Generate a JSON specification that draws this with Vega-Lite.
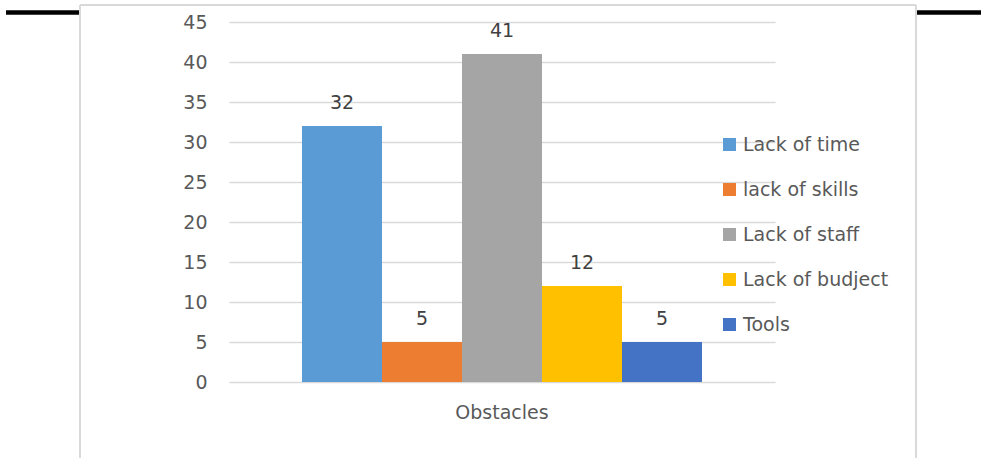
{
  "$schema": "https://vega.github.io/schema/vega-lite/v6.json",
  "width": 981,
  "height": 458,
  "autosize": "none",
  "padding": 0,
  "background": "#ffffff",
  "config": {
    "view": {"stroke": null},
    "font": "DejaVu Sans"
  },
  "layer": [
    {
      "data": {"values": [{}]},
      "mark": {"type": "rule", "color": "#d9d9d9", "strokeWidth": 2},
      "encoding": {
        "x": {"datum": "Obstacles", "type": "nominal", "bandPosition": -0.2729},
        "x2": {"datum": "Obstacles", "bandPosition": 1.2582},
        "y": {"datum": 47.125, "type": "quantitative"}
      }
    },
    {
      "data": {"values": [{}]},
      "mark": {"type": "rule", "color": "#d9d9d9", "strokeWidth": 2},
      "encoding": {
        "x": {"datum": "Obstacles", "type": "nominal", "bandPosition": -0.2729},
        "y": {"datum": 47.125, "type": "quantitative"},
        "y2": {"datum": -12}
      }
    },
    {
      "data": {"values": [{}]},
      "mark": {"type": "rule", "color": "#d9d9d9", "strokeWidth": 2},
      "encoding": {
        "x": {"datum": "Obstacles", "type": "nominal", "bandPosition": 1.2582},
        "y": {"datum": 47.125, "type": "quantitative"},
        "y2": {"datum": -12}
      }
    },
    {
      "data": {"values": [{}]},
      "mark": {"type": "rule", "color": "#000000", "strokeWidth": 4.5},
      "encoding": {
        "x": {"datum": "Obstacles", "type": "nominal", "bandPosition": -0.4084},
        "x2": {"datum": "Obstacles", "bandPosition": -0.2747},
        "y": {"datum": 46.2, "type": "quantitative"}
      }
    },
    {
      "data": {"values": [{}]},
      "mark": {"type": "rule", "color": "#000000", "strokeWidth": 4.5},
      "encoding": {
        "x": {"datum": "Obstacles", "type": "nominal", "bandPosition": 1.2601},
        "x2": {"datum": "Obstacles", "bandPosition": 1.39},
        "y": {"datum": 46.2, "type": "quantitative"}
      }
    },
    {
      "data": {
        "values": [
          {"group": "Obstacles", "series": "Lack of time", "count": 32},
          {"group": "Obstacles", "series": "lack of skills", "count": 5},
          {"group": "Obstacles", "series": "Lack of staff", "count": 41},
          {"group": "Obstacles", "series": "Lack of budject", "count": 12},
          {"group": "Obstacles", "series": "Tools", "count": 5}
        ]
      },
      "encoding": {
        "x": {
          "field": "group",
          "type": "nominal",
          "scale": {"range": [229, 775], "paddingInner": 0, "paddingOuter": 0},
          "axis": {
            "orient": "bottom",
            "offset": -76,
            "title": null,
            "domain": false,
            "ticks": false,
            "labelAngle": 0,
            "labelAlign": "center",
            "labelFlush": false,
            "labelFontSize": 19,
            "labelColor": "#595959",
            "labelPadding": 30,
            "grid": false
          }
        },
        "xOffset": {
          "field": "series",
          "type": "nominal",
          "sort": ["Lack of time", "lack of skills", "Lack of staff", "Lack of budject", "Tools"],
          "scale": {"paddingInner": 0, "paddingOuter": 0.9125}
        },
        "y": {
          "field": "count",
          "type": "quantitative",
          "scale": {"domain": [0, 45], "range": [382, 22], "nice": false},
          "axis": {
            "orient": "left",
            "offset": -229,
            "title": null,
            "values": [0, 5, 10, 15, 20, 25, 30, 35, 40, 45],
            "domain": false,
            "ticks": false,
            "labelFontSize": 19,
            "labelColor": "#595959",
            "labelPadding": 22,
            "grid": true,
            "gridColor": "#d9d9d9",
            "gridWidth": 1.5
          }
        }
      },
      "layer": [
        {
          "mark": {"type": "bar"},
          "encoding": {
            "color": {
              "field": "series",
              "type": "nominal",
              "scale": {
                "domain": ["Lack of time", "lack of skills", "Lack of staff", "Lack of budject", "Tools"],
                "range": ["#5b9bd5", "#ed7d31", "#a5a5a5", "#ffc000", "#4472c4"]
              },
              "legend": {
                "orient": "none",
                "legendX": 720,
                "legendY": 135,
                "title": null,
                "symbolType": "square",
                "symbolSize": 169,
                "symbolStrokeWidth": 0,
                "labelFontSize": 19,
                "labelColor": "#595959",
                "labelOffset": 4,
                "rowPadding": 25,
                "labelLimit": 300
              }
            }
          }
        },
        {
          "mark": {"type": "text", "baseline": "alphabetic", "dy": -17, "fontSize": 19, "color": "#404040"},
          "encoding": {
            "text": {"field": "count", "type": "quantitative"}
          }
        }
      ]
    }
  ]
}
